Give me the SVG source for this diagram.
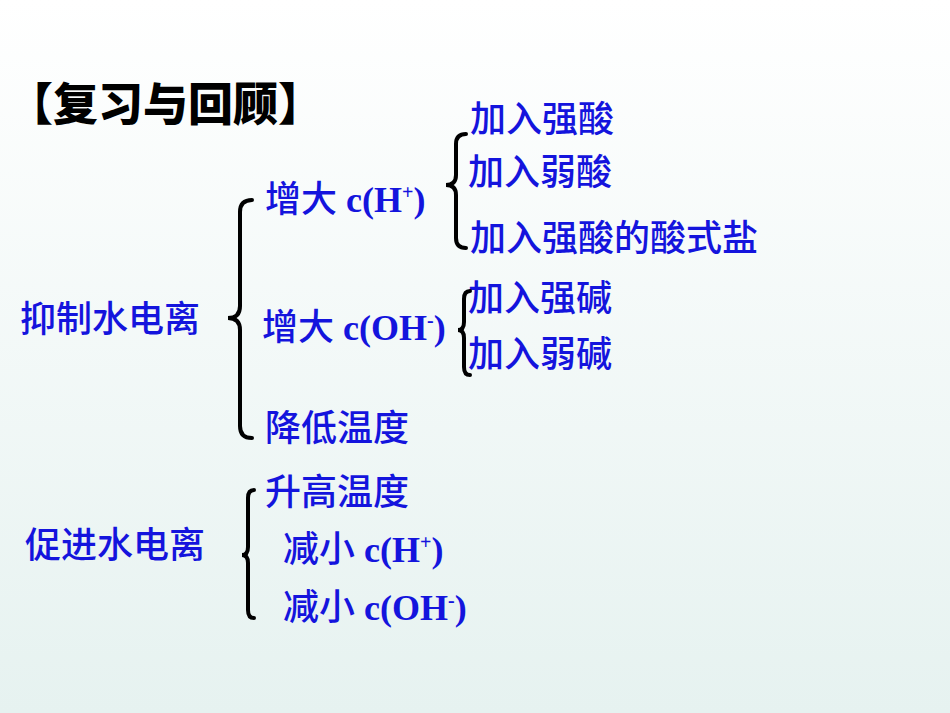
<svg xmlns="http://www.w3.org/2000/svg" width="950" height="713" viewBox="0 0 950 713">
<defs>
<linearGradient id="bg" x1="0" y1="0" x2="0" y2="1"><stop offset="0" stop-color="#ffffff"/><stop offset="1" stop-color="#e6f2f0"/></linearGradient>
</defs>
<style>
.t{font-family:"Liberation Serif","Noto Sans CJK SC",serif;font-weight:500;fill:#1414dd;font-size:36px}
.b{fill:none;stroke:#000;stroke-width:4;stroke-linecap:round}
.s{font-size:20px}
</style>
<rect width="950" height="713" fill="url(#bg)"/>
<g id="title"><text x="8" y="121" style="font-family:'Noto Sans CJK SC',sans-serif;font-weight:900;font-size:45px;fill:#000">【复习与回顾】</text></g>
<g id="n1"><text class="t" x="20" y="332">抑制水电离</text></g>
<g id="n2"><text class="t" x="265" y="212">增大 <tspan font-weight="bold">c(H<tspan class="s" dy="-13">+</tspan><tspan dy="13">)</tspan></tspan></text></g>
<g id="n3"><text class="t" x="470" y="132">加入强酸</text></g>
<g id="n4"><text class="t" x="468" y="185">加入弱酸</text></g>
<g id="n5"><text class="t" x="470" y="251">加入强酸的酸式盐</text></g>
<g id="n6"><text class="t" x="262" y="340">增大 <tspan font-weight="bold">c(OH<tspan class="s" dy="-13">-</tspan><tspan dy="13">)</tspan></tspan></text></g>
<g id="n7"><text class="t" x="468" y="311">加入强碱</text></g>
<g id="n8"><text class="t" x="468" y="367">加入弱碱</text></g>
<g id="n9"><text class="t" x="265" y="441">降低温度</text></g>
<g id="n10"><text class="t" x="25" y="558">促进水电离</text></g>
<g id="n11"><text class="t" x="265" y="505">升高温度</text></g>
<g id="n12"><text class="t" x="283" y="562">减小 <tspan font-weight="bold">c(H<tspan class="s" dy="-13">+</tspan><tspan dy="13">)</tspan></tspan></text></g>
<g id="n13"><text class="t" x="283" y="620">减小 <tspan font-weight="bold">c(OH<tspan class="s" dy="-13">-</tspan><tspan dy="13">)</tspan></tspan></text></g>
<g id="connectors">
<path class="b" d="M252 200 Q240 200 240 212 L240 306 Q240 318 228 318 Q240 318 240 330 L240 426 Q240 438 252 438"/>
<path class="b" d="M466 134 Q456 134 456 144 L456 175 Q456 185 446 185 Q456 185 456 195 L456 238 Q456 248 466 248"/>
<path class="b" d="M470 291 Q464 291 464 299 L464 322 Q464 330 458 330 Q464 330 464 338 L464 367 Q464 375 470 375"/>
<path class="b" d="M254 490 Q248 490 248 498 L248 547 Q248 555 242 555 Q248 555 248 563 L248 610 Q248 618 254 618"/>
</g>
</svg>
